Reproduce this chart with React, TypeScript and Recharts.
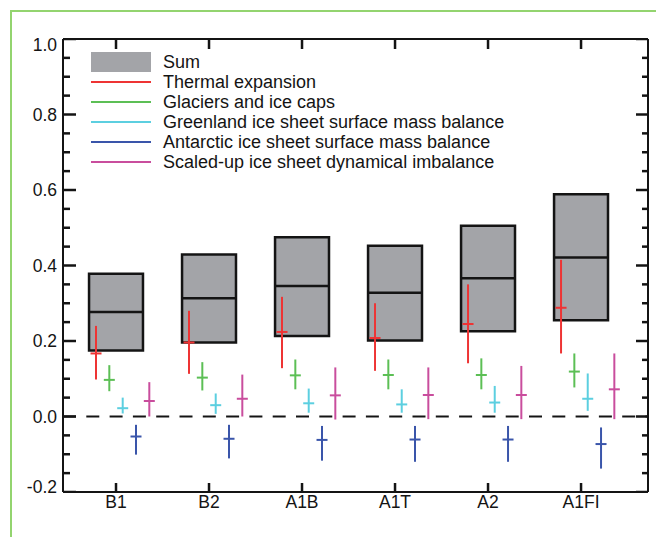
import React from 'react';
import {
  ComposedChart,
  XAxis,
  YAxis,
  Scatter,
  ErrorBar,
  ReferenceArea,
  ReferenceLine,
} from 'recharts';

// ---------- data ----------
const categories = ['B1', 'B2', 'A1B', 'A1T', 'A2', 'A1FI'];
const categoryPositions = [1, 2, 3, 4, 5, 6];

const sumLow = [0.175, 0.196, 0.213, 0.201, 0.226, 0.255];
const sumMedian = [0.277, 0.313, 0.346, 0.328, 0.366, 0.421];
const sumHigh = [0.378, 0.429, 0.475, 0.452, 0.505, 0.589];

const thermalLow = [0.098, 0.113, 0.128, 0.121, 0.141, 0.167];
const thermalMedian = [0.167, 0.196, 0.224, 0.208, 0.245, 0.288];
const thermalHigh = [0.24, 0.28, 0.317, 0.3, 0.35, 0.415];

const glaciersLow = [0.067, 0.069, 0.072, 0.072, 0.072, 0.077];
const glaciersMedian = [0.097, 0.103, 0.109, 0.11, 0.11, 0.119];
const glaciersHigh = [0.136, 0.144, 0.151, 0.151, 0.154, 0.167];

const greenlandLow = [0.008, 0.007, 0.01, 0.01, 0.01, 0.015];
const greenlandMedian = [0.022, 0.03, 0.035, 0.032, 0.037, 0.047];
const greenlandHigh = [0.05, 0.061, 0.074, 0.072, 0.081, 0.114];

const antarcticLow = [-0.101, -0.111, -0.117, -0.12, -0.12, -0.138];
const antarcticMedian = [-0.053, -0.059, -0.062, -0.061, -0.061, -0.073];
const antarcticHigh = [-0.022, -0.022, -0.025, -0.025, -0.025, -0.029];

const dynamicLow = [0.0, 0.0, -0.008, -0.007, -0.007, -0.007];
const dynamicMedian = [0.041, 0.047, 0.056, 0.057, 0.057, 0.072];
const dynamicHigh = [0.091, 0.111, 0.13, 0.13, 0.134, 0.167];

const yMajorTicks = [-0.2, 0.0, 0.2, 0.4, 0.6, 0.8, 1.0];
const yAllTicks = [
  -0.2, -0.15, -0.1, -0.05, 0.0, 0.05, 0.1, 0.15, 0.2, 0.25, 0.3, 0.35, 0.4, 0.45,
  0.5, 0.55, 0.6, 0.65, 0.7, 0.75, 0.8, 0.85, 0.9, 0.95, 1.0,
];

// ---------- style / layout ----------
const FONT = '"Liberation Sans", Arial, Helvetica, sans-serif';
const INK = '#141414';
const BOX_FILL = '#a3a4a8';
const X_DOMAIN: [number, number] = [0.43, 6.72];
const Y_DOMAIN: [number, number] = [-0.2, 1.0];
const BOX_HALF = 0.29;
const TICK_W = 2.5;

const components = [
  { name: 'Thermal expansion', color: '#ee3434', low: thermalLow, median: thermalMedian, high: thermalHigh, offset: -0.215 },
  { name: 'Glaciers and ice caps', color: '#5cbf55', low: glaciersLow, median: glaciersMedian, high: glaciersHigh, offset: -0.072 },
  { name: 'Greenland ice sheet surface mass balance', color: '#5ccfe0', low: greenlandLow, median: greenlandMedian, high: greenlandHigh, offset: 0.072 },
  { name: 'Antarctic ice sheet surface mass balance', color: '#3a55aa', low: antarcticLow, median: antarcticMedian, high: antarcticHigh, offset: 0.215 },
  { name: 'Scaled-up ice sheet dynamical imbalance', color: '#c94d9d', low: dynamicLow, median: dynamicMedian, high: dynamicHigh, offset: 0.358 },
];

const isMajor = (v: number) => yMajorTicks.some((m) => Math.abs(m - v) < 1e-6);

const leftTickPoints = yAllTicks.map((v) => ({ x: X_DOMAIN[0], y: v, major: isMajor(v) }));
const rightTickPoints = yAllTicks.map((v) => ({ x: X_DOMAIN[1], y: v, major: isMajor(v) }));
const topTickPoints = categoryPositions.map((p) => ({ x: p, y: Y_DOMAIN[1] }));

const LeftTickShape = (props: any) => {
  const { cx, cy, payload } = props;
  if (cx == null || cy == null) return <g />;
  return <line x1={cx} x2={cx + (payload.major ? 13 : 7)} y1={cy} y2={cy} stroke={INK} strokeWidth={TICK_W} />;
};
const RightTickShape = (props: any) => {
  const { cx, cy, payload } = props;
  if (cx == null || cy == null) return <g />;
  return <line x1={cx} x2={cx - (payload.major ? 12 : 6)} y1={cy} y2={cy} stroke={INK} strokeWidth={TICK_W} />;
};
const TopTickShape = (props: any) => {
  const { cx, cy } = props;
  if (cx == null || cy == null) return <g />;
  return <line x1={cx} x2={cx} y1={cy} y2={cy + 10} stroke={INK} strokeWidth={TICK_W} />;
};

const LeftTick = (props: any) => {
  const { x, y, payload } = props;
  const v = payload.value as number;
  if (!isMajor(v)) return <g />;
  let dy = 0;
  if (Math.abs(v - Y_DOMAIN[1]) < 1e-6) dy = 6;
  if (Math.abs(v - Y_DOMAIN[0]) < 1e-6) dy = -5;
  return (
    <text x={x - 6} y={y + dy} textAnchor="end" dominantBaseline="central" fontSize={17.5} fill={INK} fontFamily={FONT}>
      {v.toFixed(1)}
    </text>
  );
};

const BottomTick = (props: any) => {
  const { x, y, payload } = props;
  const idx = categoryPositions.indexOf(payload.value);
  return (
    <text x={x} y={y + 10} textAnchor="middle" dominantBaseline="central" fontSize={17.5} fill={INK} fontFamily={FONT}>
      {categories[idx]}
    </text>
  );
};

const makeCrossShape = (color: string) => (props: any) => {
  const { cx, cy } = props;
  if (cx == null || cy == null) return <g />;
  return <line x1={cx - 5.5} x2={cx + 5.5} y1={cy} y2={cy} stroke={color} strokeWidth={2} />;
};

const LegendBlock = () => (
  <div
    style={{
      position: 'absolute',
      left: 91,
      top: 52,
      fontFamily: FONT,
      fontSize: 18,
      color: INK,
      lineHeight: '20px',
      pointerEvents: 'none',
    }}
  >
    <div style={{ display: 'flex', alignItems: 'center', height: 20 }}>
      <div style={{ width: 60, height: 20, background: BOX_FILL }} />
      <span style={{ marginLeft: 12, whiteSpace: 'nowrap' }}>Sum</span>
    </div>
    {components.map((c) => (
      <div key={c.name} style={{ display: 'flex', alignItems: 'center', height: 20 }}>
        <div style={{ width: 60, height: 2, background: c.color }} />
        <span style={{ marginLeft: 12, whiteSpace: 'nowrap' }}>{c.name}</span>
      </div>
    ))}
  </div>
);

const axisLineStyle = { stroke: INK, strokeWidth: 2 };

export default function App() {
  return (
    <div style={{ position: 'absolute', left: 0, top: 0, width: 656, height: 537, background: '#fff' }}>
      <ComposedChart width={656} height={537} margin={{ top: 38, right: 7, bottom: 44, left: 62 }}>
        <XAxis
          xAxisId={0}
          type="number"
          dataKey="x"
          domain={X_DOMAIN}
          allowDataOverflow
          ticks={categoryPositions}
          interval={0}
          height={1}
          tickSize={-9}
          tickMargin={9}
          tickLine={{ stroke: INK, strokeWidth: TICK_W }}
          tick={<BottomTick />}
          axisLine={axisLineStyle}
        />
        <XAxis
          xAxisId="top"
          type="number"
          orientation="top"
          domain={X_DOMAIN}
          allowDataOverflow
          ticks={categoryPositions}
          interval={0}
          height={1}
          tick={false}
          tickLine={false}
          axisLine={axisLineStyle}
        />
        <YAxis
          yAxisId={0}
          type="number"
          domain={Y_DOMAIN}
          allowDataOverflow
          ticks={yAllTicks}
          interval={0}
          width={1}
          tickSize={0}
          tickMargin={0}
          tickLine={false}
          tick={<LeftTick />}
          axisLine={axisLineStyle}
        />
        <YAxis
          yAxisId="right"
          orientation="right"
          type="number"
          domain={Y_DOMAIN}
          allowDataOverflow
          ticks={yAllTicks}
          interval={0}
          width={1}
          tick={false}
          tickLine={false}
          axisLine={axisLineStyle}
        />

        {categoryPositions.map((p, i) => (
          <ReferenceArea
            key={`box-${i}`}
            x1={p - BOX_HALF}
            x2={p + BOX_HALF}
            y1={sumLow[i]}
            y2={sumHigh[i]}
            fill={BOX_FILL}
            fillOpacity={1}
            stroke={INK}
            strokeWidth={2.5}
            ifOverflow="visible"
          />
        ))}
        {categoryPositions.map((p, i) => (
          <ReferenceLine
            key={`med-${i}`}
            segment={[
              { x: p - BOX_HALF, y: sumMedian[i] },
              { x: p + BOX_HALF, y: sumMedian[i] },
            ]}
            stroke={INK}
            strokeWidth={2.5}
            ifOverflow="visible"
          />
        ))}
        <ReferenceLine y={0} stroke={INK} strokeWidth={2} strokeDasharray="13 10.3" />

        <Scatter name="left-ticks" data={leftTickPoints} dataKey="y" shape={LeftTickShape} isAnimationActive={false} />
        <Scatter name="right-ticks" data={rightTickPoints} dataKey="y" shape={RightTickShape} isAnimationActive={false} />
        <Scatter name="top-ticks" data={topTickPoints} dataKey="y" shape={TopTickShape} isAnimationActive={false} />

        {components.map((c) => (
          <Scatter
            key={c.name}
            name={c.name}
            data={categoryPositions.map((p, i) => ({
              x: p + c.offset,
              y: c.median[i],
              err: [c.median[i] - c.low[i], c.high[i] - c.median[i]],
            }))}
            dataKey="y"
            fill={c.color}
            shape={makeCrossShape(c.color)}
            isAnimationActive={false}
          >
            <ErrorBar dataKey="err" direction="y" width={0} stroke={c.color} strokeWidth={2} isAnimationActive={false} />
          </Scatter>
        ))}
      </ComposedChart>
      <div
        style={{
          position: 'absolute',
          left: 10,
          top: 10,
          width: 700,
          height: 600,
          borderLeft: '2px solid #93d46f',
          borderTop: '2px solid #93d46f',
          pointerEvents: 'none',
        }}
      />
      <LegendBlock />
    </div>
  );
}
